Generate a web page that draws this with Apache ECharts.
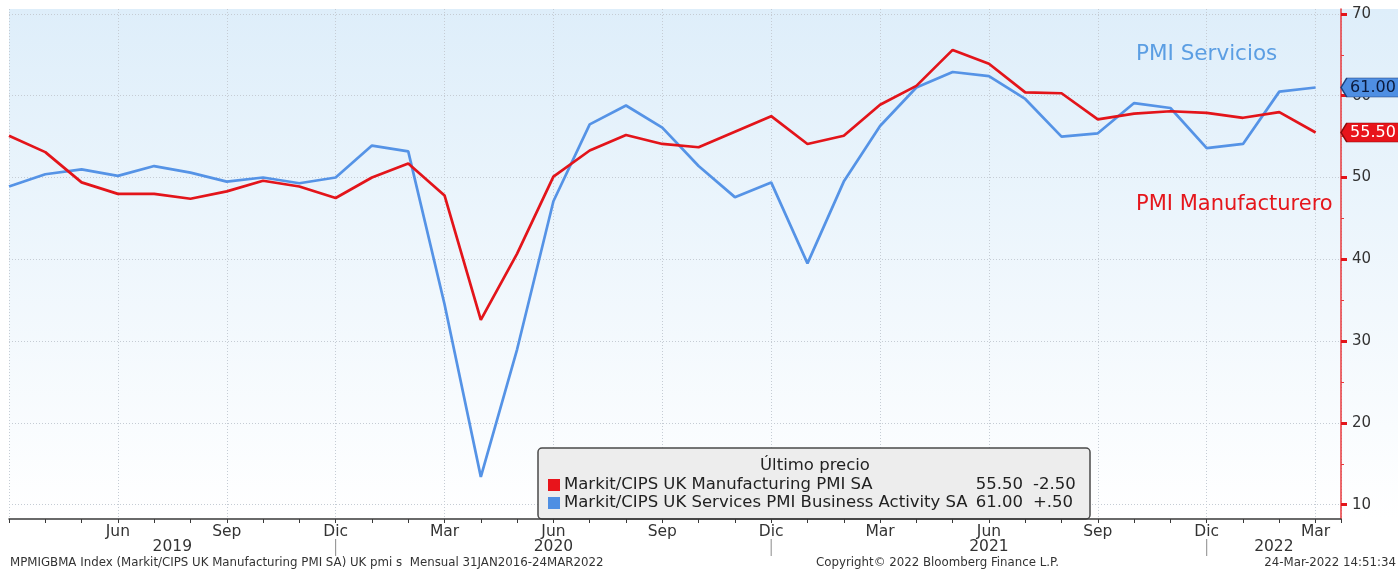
<!DOCTYPE html>
<html>
<head>
<meta charset="utf-8">
<script src="https://cdn.jsdelivr.net/npm/echarts@6/dist/echarts.min.js"></script>
<style>
  html, body { margin: 0; padding: 0; background: #fff; }
  #chart { width: 1398px; height: 570px; }
</style>
</head>
<body>
<div id="chart"></div>
<script>
// meses (mar 2019 - mar 2022)
const months = [
  '2019-03','2019-04','2019-05','2019-06','2019-07','2019-08','2019-09','2019-10','2019-11','2019-12',
  '2020-01','2020-02','2020-03','2020-04','2020-05','2020-06','2020-07','2020-08','2020-09','2020-10','2020-11','2020-12',
  '2021-01','2021-02','2021-03','2021-04','2021-05','2021-06','2021-07','2021-08','2021-09','2021-10','2021-11','2021-12',
  '2022-01','2022-02','2022-03'
]
const manufacturing = [
  55.1, 53.1, 49.4, 48.0, 48.0, 47.4, 48.3, 49.6, 48.9, 47.5,
  50.0, 51.7, 47.8, 32.6, 40.7, 50.1, 53.3, 55.2, 54.1, 53.7, 55.6, 57.5,
  54.1, 55.1, 58.9, 61.2, 65.6, 63.9, 60.4, 60.3, 57.1, 57.8, 58.1, 57.9,
  57.3, 58.0, 55.5
]
const services = [
  48.9, 50.4, 51.0, 50.2, 51.4, 50.6, 49.5, 50.0, 49.3, 50.0,
  53.9, 53.2, 34.5, 13.4, 29.0, 47.1, 56.5, 58.8, 56.1, 51.4, 47.6, 49.4,
  39.5, 49.5, 56.3, 61.0, 62.9, 62.4, 59.6, 55.0, 55.4, 59.1, 58.5, 53.6,
  54.1, 60.5, 61.0
]
const monthNames = ['Ene','Feb','Mar','Abr','May','Jun','Jul','Ago','Sep','Oct','Nov','Dic']
const yTicks = [10, 20, 30, 40, 50, 60, 70]
const years = ['2019', '2020', '2021', '2022']
const changes = ['-2.50', '+.50']

const RED = '#e3141a'
const BLUE = '#5593e6'
const FONT = 'DejaVu Sans'
const xMax = 36.7

const toPairs = arr => arr.map((v, i) => [i, v])

const flag = (value, fill, border, textColor) => ({
  symbol: 'path://M0,9 L6,0 L60,0 L60,18 L6,18 Z',
  symbolSize: [58, 19],
  symbolOffset: ['50%', 0],
  itemStyle: { color: fill, borderColor: border, borderWidth: 1 },
  label: {
    show: true, position: 'inside', offset: [3, 0],
    formatter: value.toFixed(2), color: textColor,
    fontFamily: FONT, fontSize: 16
  },
  data: [{ coord: [xMax, value], value: value }]
})

const chart = echarts.init(document.getElementById('chart'))
chart.setOption({
  animation: false,
  backgroundColor: '#fff',
  grid: { left: 9, right: 57, top: 9, bottom: 51, show: false },
  xAxis: {
    type: 'value',
    min: 0,
    max: xMax,
    interval: 3,
    axisLine: { onZero: false, lineStyle: { color: '#3a3a3a', width: 1.5 } },
    axisTick: { show: true, length: 4, lineStyle: { color: '#3a3a3a' } },
    minorTick: { show: true, splitNumber: 3, length: 4, lineStyle: { color: '#3a3a3a' } },
    axisLabel: {
      showMinLabel: false, showMaxLabel: false, margin: 5,
      fontFamily: FONT, fontSize: 15.5, color: '#333',
      formatter: v => {
        if (!Number.isInteger(v) || v <= 0 || v >= months.length) return ''
        return monthNames[+months[v].slice(5) - 1]
      }
    },
    splitLine: { show: true, lineStyle: { color: '#c5ccd4', type: [1, 2], width: 1 } }
  },
  yAxis: {
    type: 'value',
    position: 'right',
    min: 8.25,
    max: 70.6,
    axisLine: { show: true, onZero: false, lineStyle: { color: '#e8383c', width: 1.5 } },
    axisTick: { show: true, customValues: yTicks, length: 6, lineStyle: { color: RED, width: 3 } },
    minorTick: { show: true, splitNumber: 2, length: 3, lineStyle: { color: '#e8383c', width: 1 } },
    axisLabel: {
      customValues: yTicks, margin: 11,
      fontFamily: FONT, fontSize: 15, color: '#333'
    },
    splitLine: { show: true, lineStyle: { color: '#c5ccd4', type: [1, 2], width: 1 } }
  },
  series: [
    {
      name: 'Markit/CIPS UK Services PMI Business Activity SA',
      type: 'line',
      data: toPairs(services),
      symbol: 'none',
      clip: false,
      lineStyle: { color: BLUE, width: 2.7 },
      z: 3,
      markPoint: flag(services[services.length - 1], '#4f8fe3', '#1d3f7a', '#0b1a3c')
    },
    {
      name: 'Markit/CIPS UK Manufacturing PMI SA',
      type: 'line',
      data: toPairs(manufacturing),
      symbol: 'none',
      clip: false,
      lineStyle: { color: RED, width: 2.7 },
      z: 4,
      markPoint: flag(manufacturing[manufacturing.length - 1], '#e8141b', '#8a0a0a', '#fff')
    }
  ]
})

// year labels, separators, legend box and notes
const px = (x, y) => chart.convertToPixel({ gridIndex: 0 }, [x, y])
const decIdx = months.map((m, i) => m.endsWith('-12') ? i : -1).filter(i => i >= 0)
const bounds = [0, ...decIdx, xMax]
const yearItems = years.map((yr, i) => ({
  type: 'text',
  x: px((bounds[i] + bounds[i + 1]) / 2, 50)[0],
  y: 547,
  style: { text: yr, fontFamily: FONT, fontSize: 15.5, fill: '#333', align: 'center', verticalAlign: 'middle' }
}))
const sepItems = decIdx.map(i => ({
  type: 'line',
  shape: { x1: px(i, 50)[0], y1: 539, x2: px(i, 50)[0], y2: 556 },
  style: { stroke: '#8a8a8a', lineWidth: 1 }
}))
const lastM = manufacturing[manufacturing.length - 1]
const lastS = services[services.length - 1]
const txt = (text, x, y, extra) => ({
  type: 'text', x, y,
  style: Object.assign({ text, fontFamily: FONT, fontSize: 16.5, fill: '#222', verticalAlign: 'middle' }, extra || {})
})

chart.setOption({
  graphic: [
    {
      type: 'rect', z: -10, silent: true,
      shape: { x: 9, y: 9, width: 1389, height: 510 },
      style: {
        fill: new echarts.graphic.LinearGradient(0, 0, 0, 1, [
          { offset: 0, color: '#deeefa' },
          { offset: 1, color: '#ffffff' }
        ])
      }
    },
    ...yearItems,
    ...sepItems,
    txt('PMI Servicios', 1136, 54, { fontSize: 21.5, fill: '#5b9ee3' }),
    txt('PMI Manufacturero', 1136, 205, { fontSize: 21, fill: '#e5161c' }),
    {
      type: 'group', z: 50,
      children: [
        {
          type: 'rect',
          shape: { x: 538, y: 448, width: 552, height: 71, r: 4 },
          style: { fill: '#ededed', stroke: '#4a4a4a', lineWidth: 1.5 }
        },
        txt('Último precio', 815, 466, { align: 'center' }),
        { type: 'rect', shape: { x: 548, y: 479, width: 12, height: 12 }, style: { fill: '#e8141b' } },
        txt('Markit/CIPS UK Manufacturing PMI SA', 564, 485),
        txt(lastM.toFixed(2), 1023, 485, { align: 'right' }),
        txt(changes[0], 1033, 485),
        { type: 'rect', shape: { x: 548, y: 497, width: 12, height: 12 }, style: { fill: '#4f8fe3' } },
        txt('Markit/CIPS UK Services PMI Business Activity SA', 564, 503),
        txt(lastS.toFixed(2), 1023, 503, { align: 'right' }),
        txt(changes[1], 1033, 503)
      ]
    },
    txt('MPMIGBMA Index (Markit/CIPS UK Manufacturing PMI SA) UK pmi s  Mensual 31JAN2016-24MAR2022', 10, 563, { fontSize: 11.8, fill: '#333' }),
    txt('Copyright\u00a9 2022 Bloomberg Finance L.P.', 816, 563, { fontSize: 11.8, fill: '#333' }),
    txt('24-Mar-2022 14:51:34', 1396, 563, { fontSize: 11.8, fill: '#333', align: 'right' })
  ]
})
</script>
</body>
</html>
